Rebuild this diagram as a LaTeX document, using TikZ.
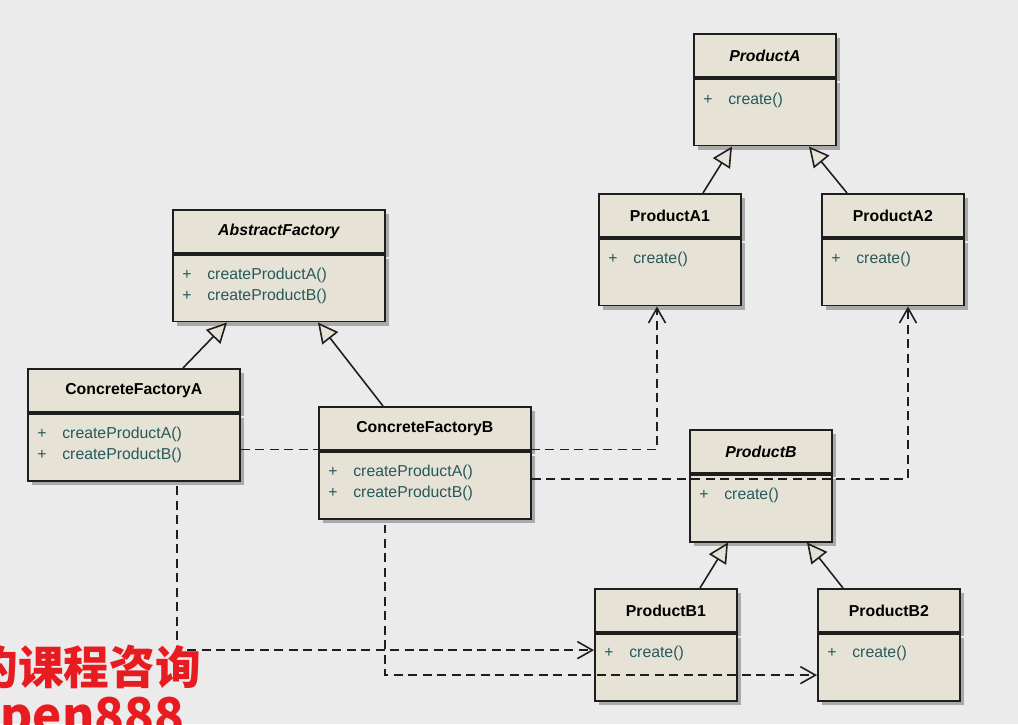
\documentclass[tikz,border=0pt]{standalone}
\usepackage{fontspec}
\setmainfont{Liberation Sans}
\newfontfamily\cjk{Noto Sans CJK SC}
\usetikzlibrary{arrows.meta,positioning,shadows}
\definecolor{bgcol}{RGB}{235,235,235}
\definecolor{boxfill}{RGB}{231,226,214}
\definecolor{methodcol}{RGB}{38,90,90}
\definecolor{linecol}{RGB}{30,30,30}
\definecolor{markred}{RGB}{232,28,32}

\begin{document}
\begin{tikzpicture}[
  x=0.02cm, y=-0.02cm,
  classbox/.style={rectangle, draw=linecol, line width=1pt, fill=boxfill, inner sep=0pt,
    drop shadow={shadow xshift=0.08cm, shadow yshift=-0.08cm, fill=black, opacity=0.28}},
  prodtitle/.style={classbox, minimum width=2.84cm, minimum height=0.86cm, anchor=north west, font=\fontsize{9}{11}\selectfont\bfseries},
  prodbody/.style={classbox, minimum width=2.84cm, minimum height=1.34cm, anchor=north},
  facttitle/.style={prodtitle, minimum width=4.24cm},
  factbody/.style={prodbody, minimum width=4.24cm},
  abstract/.style={font=\fontsize{9}{11}\selectfont\bfseries\itshape},
  member/.style={anchor=west, inner sep=0pt, text=methodcol, font=\fontsize{9}{11}\selectfont},
  inherit/.style={draw=linecol, line width=0.9pt, -{Triangle[open, fill=boxfill, length=0.4cm, width=0.4cm]}},
  dep/.style={draw=linecol, line width=0.9pt, dash pattern=on 0.18cm off 0.11cm, -{Straight Barb[length=0.3cm, width=0.34cm]}},
  marktext/.style={inner sep=0pt, text=markred, font=\cjk\bfseries\fontsize{26}{30}\selectfont}
]
\clip (0,0) rectangle (1018,724);
\fill[bgcol] (0,0) rectangle (1018,724);
% products A
\node[prodtitle, abstract] (pa) at (693,33) {ProductA};
\node[prodbody] (pab) at (pa.south) {};
\node[member] (pam) at ([xshift=0.2cm, yshift=-0.46cm]pab.north west) {\makebox[0.5cm][l]{+}create()};
\node[prodtitle] (pa1) at (598,193) {ProductA1};
\node[prodbody] (pa1b) at (pa1.south) {};
\node[member] (pa1m) at ([xshift=0.2cm, yshift=-0.44cm]pa1b.north west) {\makebox[0.5cm][l]{+}create()};
\node[prodtitle] (pa2) at (821,193) {ProductA2};
\node[prodbody] (pa2b) at (pa2.south) {};
\node[member] (pa2m) at ([xshift=0.2cm, yshift=-0.44cm]pa2b.north west) {\makebox[0.5cm][l]{+}create()};
% factories
\node[facttitle, abstract] (af) at (172,209) {AbstractFactory};
\node[factbody] (afb) at (af.south) {};
\node[member] (afm1) at ([xshift=0.2cm, yshift=-0.44cm]afb.north west) {\makebox[0.5cm][l]{+}createProductA()};
\node[member] (afm2) at ([xshift=0.2cm, yshift=-0.86cm]afb.north west) {\makebox[0.5cm][l]{+}createProductB()};
\node[facttitle] (cfa) at (27,368) {ConcreteFactoryA};
\node[factbody] (cfab) at (cfa.south) {};
\node[member] (cfam1) at ([xshift=0.2cm, yshift=-0.44cm]cfab.north west) {\makebox[0.5cm][l]{+}createProductA()};
\node[member] (cfam2) at ([xshift=0.2cm, yshift=-0.86cm]cfab.north west) {\makebox[0.5cm][l]{+}createProductB()};
\node[facttitle] (cfb) at (318,406) {ConcreteFactoryB};
\node[factbody] (cfbb) at (cfb.south) {};
\node[member] (cfbm1) at ([xshift=0.2cm, yshift=-0.44cm]cfbb.north west) {\makebox[0.5cm][l]{+}createProductA()};
\node[member] (cfbm2) at ([xshift=0.2cm, yshift=-0.86cm]cfbb.north west) {\makebox[0.5cm][l]{+}createProductB()};
% products B
\node[prodtitle, abstract] (pb) at (689,429) {ProductB};
\node[prodbody] (pbb) at (pb.south) {};
\node[member] (pbm) at ([xshift=0.2cm, yshift=-0.44cm]pbb.north west) {\makebox[0.5cm][l]{+}create()};
\node[prodtitle] (pb1) at (594,588) {ProductB1};
\node[prodbody] (pb1b) at (pb1.south) {};
\node[member] (pb1m) at ([xshift=0.2cm, yshift=-0.42cm]pb1b.north west) {\makebox[0.5cm][l]{+}create()};
\node[prodtitle] (pb2) at (817,588) {ProductB2};
\node[prodbody] (pb2b) at (pb2.south) {};
\node[member] (pb2m) at ([xshift=0.2cm, yshift=-0.42cm]pb2b.north west) {\makebox[0.5cm][l]{+}create()};
% generalisation
\draw[inherit] ([xshift=2.1cm]pa1.north west) -- ([xshift=0.78cm]pab.south west);
\draw[inherit] ([xshift=0.52cm]pa2.north west) -- ([xshift=2.32cm]pab.south west);
\draw[inherit] ([xshift=3.12cm]cfa.north west) -- ([xshift=1.1cm]afb.south west);
\draw[inherit] ([xshift=1.3cm]cfb.north west) -- ([xshift=2.92cm]afb.south west);
\draw[inherit] ([xshift=2.12cm]pb1.north west) -- ([xshift=0.78cm]pbb.south west);
\draw[inherit] ([xshift=0.52cm]pb2.north west) -- ([xshift=2.36cm]pbb.south west);
% dependencies
\draw[dep] ([yshift=-0.05cm]cfab.east) -| ([xshift=1.18cm]pa1b.south west);
\draw[dep] ([yshift=0.12cm]cfbb.east) -| ([xshift=1.74cm]pa2b.south west);
\draw[dep] ([xshift=3cm, yshift=-0.1cm]cfab.south west) |- ([yshift=0.34cm]pb1b.west);
\draw[dep] ([xshift=1.34cm, yshift=-0.1cm]cfbb.south west) |- ([yshift=-0.16cm]pb2b.west);
% overlay text
\node[marktext, anchor=west] (ad1) at (-28,667) {的课程咨询};
\node[marktext, anchor=base west, font=\cjk\bfseries\fontsize{28}{30}\selectfont] (ad2) at (0,733) {pen888};
\end{tikzpicture}
\end{document}
